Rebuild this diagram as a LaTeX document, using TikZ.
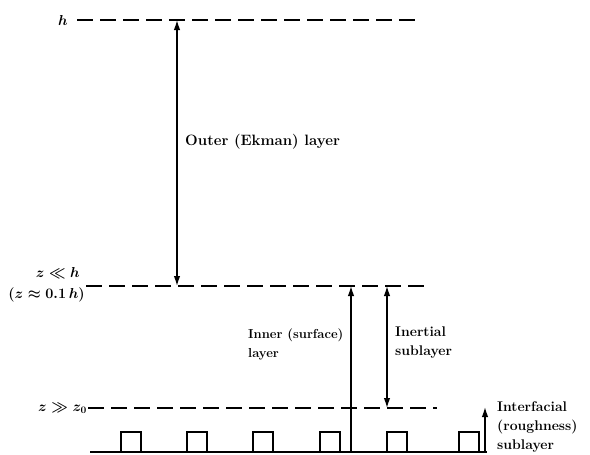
\documentclass[tikz,border=0pt]{standalone}
\usetikzlibrary{arrows.meta}
\begin{document}
\begin{tikzpicture}[x=1pt,y=-1pt,
  level/.style={line width=1.8pt,dash pattern=on 16pt off 7pt},
  dim/.style={line width=1.4pt},
  tip/.style={-{Latex[length=10pt,width=6.5pt]}},
  tips/.style={{Latex[length=10pt,width=6.5pt]}-{Latex[length=10pt,width=6.5pt]}},
  lbl/.style={font=\fontsize{14}{19}\selectfont\bfseries,align=left,inner sep=0pt},
  ml/.style={font=\fontsize{14}{16}\selectfont\boldmath,inner sep=0pt},
  blk/.style={line width=1.5pt}]
\useasboundingbox (0,0) rectangle (590,455);
% level lines
\coordinate (hL) at (77,20); \coordinate (hR) at (415,20);
\coordinate (mL) at (86,286); \coordinate (mR) at (430,286);
\coordinate (sL) at (88,408); \coordinate (sR) at (437,408);
\coordinate (gL) at (90,452); \coordinate (gR) at (487,452);
\draw[level] (hL) -- (hR);
\draw[level] (mL) -- (mR);
\draw[level] (sL) -- (sR);
\draw[line width=1.8pt] (gL) -- (gR);
% roughness elements
\foreach \x in {121,187,253,320,387,459}{
  \draw[blk] (\x,452) -- (\x,432) -- (\x+20,432) -- (\x+20,452);
}
% labels on the left
\node[ml,anchor=east] (hlab) at (68,20) {$h$};
\node[ml,anchor=east] (mlab1) at (80,273) {$z \ll h$};
\node[ml,anchor=east] (mlab2) at (85,295) {$(z \approx 0.1\,h)$};
\node[ml,anchor=east] (slab) at (87,408) {$z \gg z_0$};
% arrows
\coordinate (oT) at (177,20); \coordinate (oB) at (177,286);
\draw[dim,tips] (oT) -- (oB);
\node[lbl,font=\fontsize{15}{19}\selectfont\bfseries,anchor=west] (outer) at (185,142) {Outer (Ekman) layer};
\coordinate (iB) at (351,452); \coordinate (iT) at (351,286);
\draw[dim,tip] (iB) -- (iT);
\node[lbl,font=\fontsize{13}{19}\selectfont\bfseries,anchor=west] (inner) at (248,344) {Inner (surface)\\layer};
\coordinate (eT) at (387,286); \coordinate (eB) at (387,408);
\draw[dim,tips] (eT) -- (eB);
\node[lbl,anchor=west] (inert) at (395,343) {Inertial\\sublayer};
\coordinate (rB) at (485,452); \coordinate (rT) at (485,407);
\draw[dim,tip] (rB) -- (rT);
\node[lbl,anchor=west] (rough) at (497,427) {Interfacial\\(roughness)\\sublayer};
\end{tikzpicture}
\end{document}
